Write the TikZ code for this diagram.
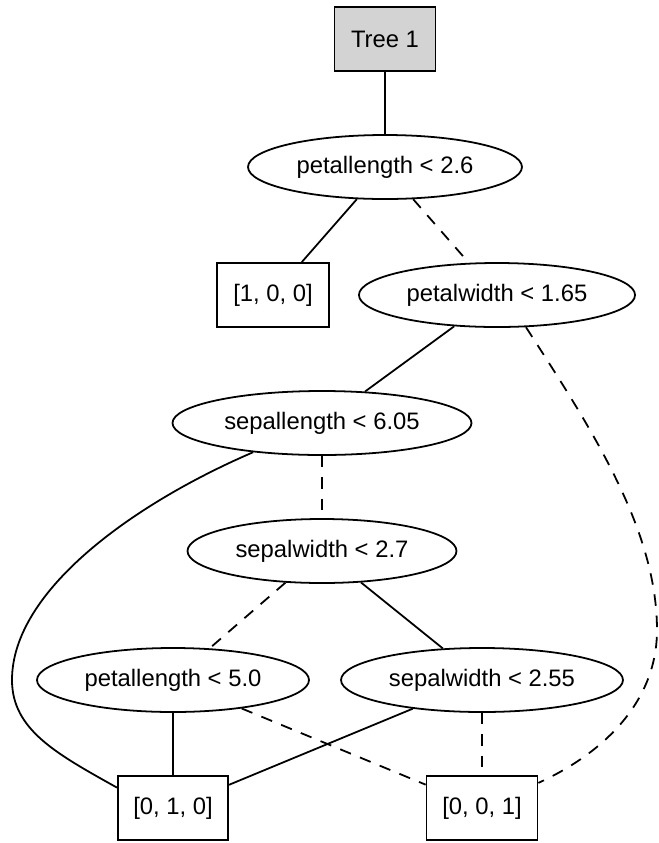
\documentclass[tikz,border=0pt]{standalone}
\usepackage{fontspec}
\setmainfont{Liberation Sans}
\usetikzlibrary{shapes.geometric}
\definecolor{rootfill}{HTML}{D3D3D3}
\begin{document}
\begin{tikzpicture}[x=0.5625pt,y=-0.5625pt,
  every node/.style={font=\fontsize{13.4}{16}\selectfont, text=black},
  link/.style={draw=black, line width=1pt},
  nolink/.style={link, dash pattern=on 6.5pt off 5.5pt},
  test/.style={ellipse, draw=black, line width=1pt, minimum height=36pt, inner sep=0pt},
  leaf/.style={rectangle, draw=black, line width=1pt, minimum height=36pt, inner sep=0pt},
]
\useasboundingbox (0,0) rectangle (659,843);

% decision nodes and leaves
\node[leaf, fill=rootfill, minimum width=56.8pt] (root) at (385,39) {Tree 1};
\node[test, minimum width=154.1pt] (n1) at (385,167) {petallength < 2.6};
\node[leaf, minimum width=63pt] (l1) at (273,295) {[1, 0, 0]};
\node[test, minimum width=155.3pt] (n2) at (497,295) {petalwidth < 1.65};
\node[test, minimum width=168.2pt] (n3) at (322,423) {sepallength < 6.05};
\node[test, minimum width=151.3pt] (n4) at (322,551) {sepalwidth < 2.7};
\node[test, minimum width=153pt] (n5) at (173,680) {petallength < 5.0};
\node[test, minimum width=158.6pt] (n6) at (482,680) {sepalwidth < 2.55};
\node[leaf, minimum width=62pt] (l2) at (173,808) {[0, 1, 0]};
\node[leaf, minimum width=62.4pt] (l3) at (482,808) {[0, 0, 1]};

% bend points of the two long edges
\coordinate (bendR) at (657,630);
\coordinate (bendL) at (12,680);

% edges: solid = true branch, dashed = false branch
\draw[link] (root) -- (n1);
\draw[link] (n1) -- (l1);
\draw[nolink] (n1) -- (n2);
\draw[link] (n2) -- (n3);
\draw[nolink] (n2.-48) .. controls (593,431) and (657,530) .. (bendR)
  .. controls (657,700) and (606,752) .. (l3.24);
\draw[nolink] (n3) -- (n4);
\draw[link] (n3.-157) .. controls (135,503) and (12,590) .. (bendL)
  .. controls (12,730) and (57,754) .. (l2.160);
\draw[nolink] (n4) -- (n5);
\draw[link] (n4) -- (n6);
\draw[link] (n5) -- (l2);
\draw[nolink] (n5) -- (l3);
\draw[link] (n6) -- (l2);
\draw[nolink] (n6) -- (l3);
\end{tikzpicture}
\end{document}
